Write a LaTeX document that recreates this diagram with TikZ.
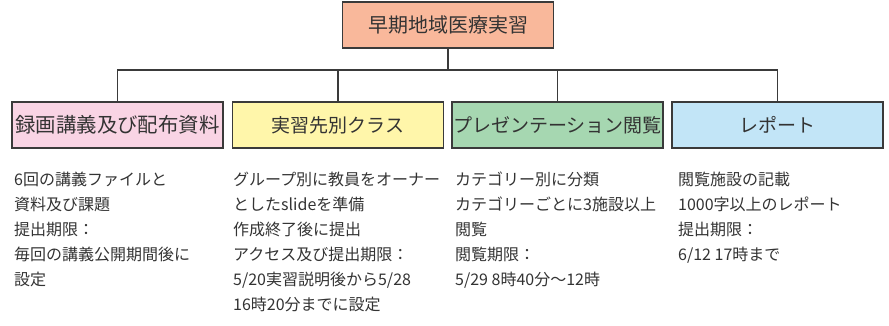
\documentclass[tikz,border=0pt]{standalone}
\usepackage{fontspec}
\setmainfont{Noto Sans CJK JP}
\definecolor{linec}{HTML}{3A3A3A}
\definecolor{textc}{HTML}{333333}
\definecolor{topc}{HTML}{F9B89B}
\definecolor{pinkc}{HTML}{F9D4E4}
\definecolor{yellowc}{HTML}{FFF6AA}
\definecolor{greenc}{HTML}{A6D7B1}
\definecolor{bluec}{HTML}{C2E5F7}
\begin{document}
\begin{tikzpicture}[x=1pt,y=-1pt,
  boxst/.style={draw=linec, line width=1.4pt, minimum width=211pt, minimum height=46pt,
    inner sep=0pt, text=textc, font=\fontsize{19pt}{22pt}\selectfont},
  conn/.style={draw=linec, line width=1.3pt},
  body/.style={anchor=north west, inner sep=0pt, align=left, text=textc,
    font=\fontsize{16pt}{25pt}\selectfont}]
\useasboundingbox (0,0) rectangle (889,325);
\node[boxst, fill=topc, font=\fontsize{20pt}{22pt}\selectfont] (top) at (448,25) {早期地域医療実習};
\node[boxst, fill=pinkc, font=\fontsize{20.4pt}{22pt}\selectfont] (b1) at (117.5,125) {録画講義及び配布資料};
\node[boxst, fill=yellowc] (b2) at (338,125) {実習先別クラス};
\node[boxst, fill=greenc] (b3) at (557.5,125) {プレゼンテーション閲覧};
\node[boxst, fill=bluec] (b4) at (777.5,125) {レポート};
\coordinate (j) at (448,70);
\draw[conn] (top.south) -- (j);
\draw[conn] (b1.north) -- (b1.north |- j) -- (b4.north |- j) -- (b4.north);
\draw[conn] (b2.north) -- (b2.north |- j);
\draw[conn] (b3.north) -- (b3.north |- j);
\node[body] (t1) at (14,172) {6回の講義ファイルと\\資料及び課題\\提出期限：\\毎回の講義公開期間後に\\設定};
\node[body] (t2) at (233,172) {グループ別に教員をオーナー\\としたslideを準備\\作成終了後に提出\\アクセス及び提出期限：\\5/20実習説明後から5/28\\16時20分までに設定};
\node[body] (t3) at (455,172) {カテゴリー別に分類\\カテゴリーごとに3施設以上\\閲覧\\閲覧期限：\\5/29 8時40分～12時};
\node[body] (t4) at (678,172) {閲覧施設の記載\\1000字以上のレポート\\提出期限：\\6/12 17時まで};
\end{tikzpicture}
\end{document}
